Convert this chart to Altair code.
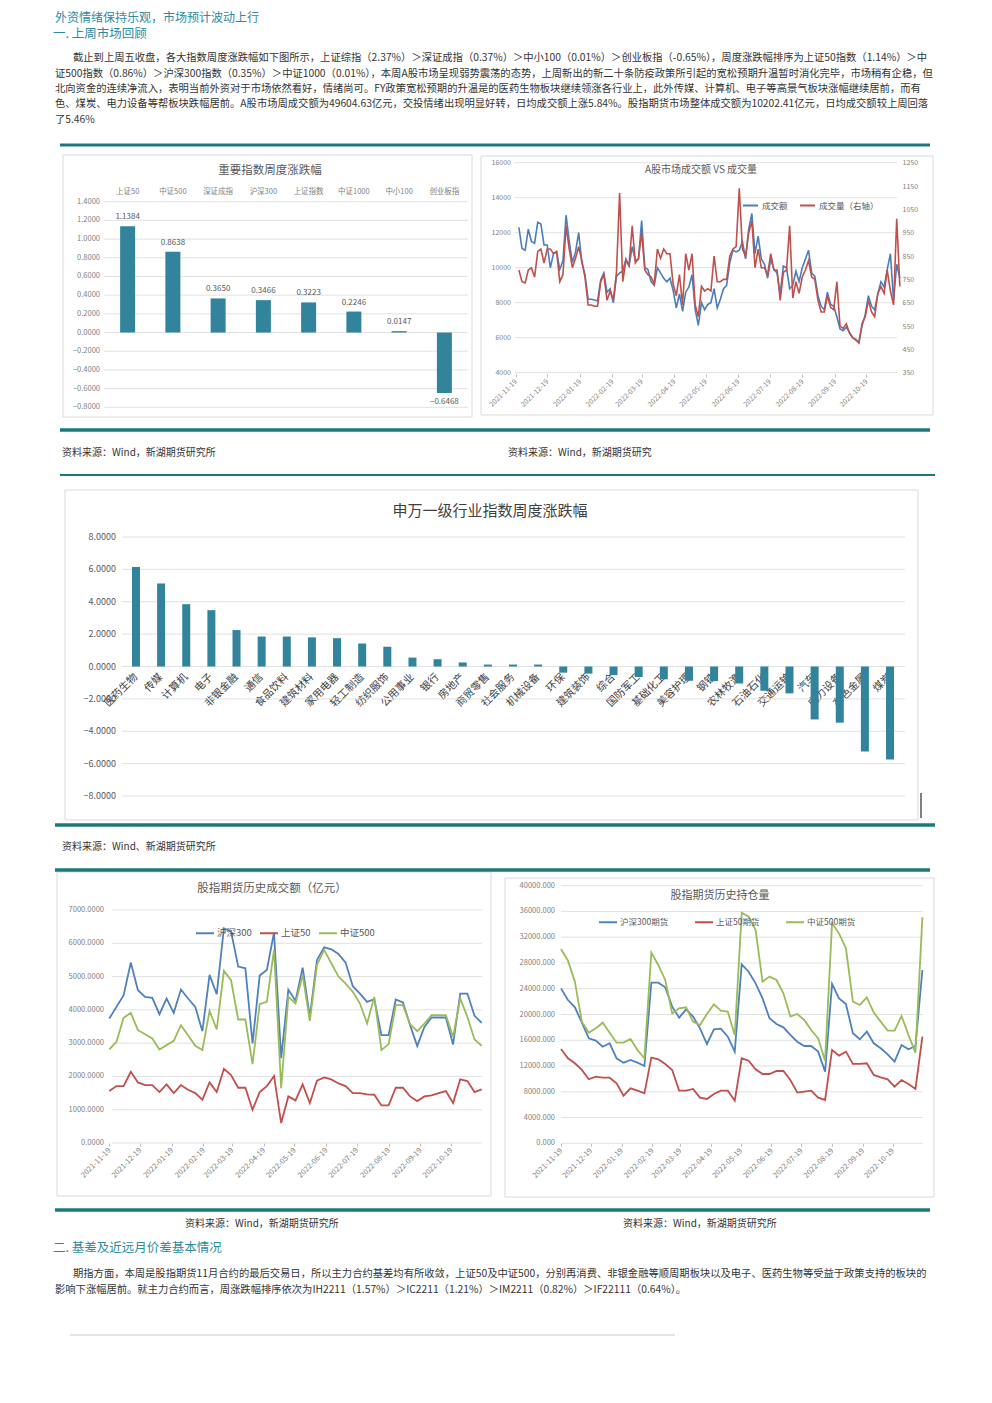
import altair as alt
import pandas as pd

FONT = "Noto Sans CJK SC"
W, H = 976, 1387
M = 8

TEAL_LINE = "#1a7a7b"
HEAD = "#2e8aa0"
BODY = "#333333"
AX = "#7f7f7f"
GRID = "#d9d9d9"
BAR = "#31849b"
BLUE2 = "#4a7ebb"
RED2 = "#c0504d"
BLUE = "#4f81bd"
RED = "#c0504d"
GREEN = "#9bbb59"

# ---------------- data ----------------
c1_names = ["上证50", "中证500", "深证成指", "沪深300", "上证指数", "中证1000", "中小100", "创业板指"]
c1_vals = [1.1384, 0.8638, 0.3650, 0.3466, 0.3223, 0.2246, 0.0147, -0.6468]
c1_ticks = [1.4, 1.2, 1.0, 0.8, 0.6, 0.4, 0.2, 0.0, -0.2, -0.4, -0.6, -0.8]

c2_start = "2021-11-22"
c2_amount = [12300, 11100, 11000, 12200, 11500, 11400, 12600, 12500, 11300, 11300,
             10000, 10800, 10900, 9900, 10400, 13000, 11500, 10300, 10900, 12000,
             10300, 9600, 8200, 8200, 8150, 8100, 9300, 9700, 8600, 8800,
             8000, 9500, 9700, 9800, 10500, 10100, 11200, 10400, 10500, 12700,
             10000, 9900, 9200, 9000, 10000, 9700, 9400, 9200, 9400, 8700,
             7700, 8500, 7500, 8600, 8900, 9600, 7600, 6700, 8000, 7600,
             7900, 8000, 8800, 7700, 8200, 8800, 9000, 10300, 11000, 10900,
             11000, 11500, 10500, 12200, 13100, 10800, 11800, 10500, 10200, 9400,
             10500, 9900, 9700, 8500, 10100, 10000, 8800, 9000, 9800, 9200,
             10000, 10500, 11000, 9700, 9500, 8400, 7800, 7600, 8600, 7900,
             7800, 7200, 6500, 6400, 6600, 6300, 6000, 5900, 5700, 6700,
             7300, 8400, 7800, 7600, 8500, 9200, 8900, 9900, 10800, 8100,
             10200, 9400]
c2_volume = [790, 740, 735, 790, 800, 760, 870, 880, 820, 880,
             880, 860, 870, 740, 770, 980, 880, 800, 840, 890,
             830, 760, 640, 640, 635, 635, 740, 770, 660, 700,
             660, 780, 1120, 740, 830, 810, 980, 820, 840, 950,
             790, 770, 760, 730, 880, 840, 880, 860, 860, 730,
             680, 770, 640, 860, 790, 860, 640, 590, 720, 700,
             710, 700, 850, 740, 740, 750, 750, 850, 880, 890,
             1140, 880, 850, 950, 1000, 800, 880, 800, 800, 770,
             860, 790, 790, 660, 780, 790, 980, 670, 740, 690,
             760, 790, 830, 760, 750, 660, 610, 610, 680, 630,
             620, 740, 550, 540, 560, 520, 500, 490, 480, 560,
             590, 660, 610, 590, 690, 720, 690, 790, 700, 640,
             1010, 720]
c2_left_ticks = [4000, 6000, 8000, 10000, 12000, 14000, 16000]
c2_right_ticks = [350, 450, 550, 650, 750, 850, 950, 1050, 1150, 1250]

c3_names = ["医药生物", "传媒", "计算机", "电子", "非银金融", "通信", "食品饮料", "建筑材料",
            "家用电器", "轻工制造", "纺织服饰", "公用事业", "银行", "房地产", "商贸零售",
            "社会服务", "机械设备", "环保", "建筑装饰", "综合", "国防军工", "基础化工",
            "美容护理", "钢铁", "农林牧渔", "石油石化", "交通运输", "汽车", "电力设备",
            "有色金属", "煤炭"]
c3_vals = [6.15, 5.13, 3.85, 3.48, 2.25, 1.85, 1.85, 1.80, 1.75, 1.42, 1.22, 0.55, 0.45,
           0.25, 0.12, 0.12, 0.12, -0.38, -0.44, -0.53, -0.65, -0.79, -0.88, -0.90,
           -1.05, -1.50, -1.66, -3.27, -3.47, -5.25, -5.74]
c3_ticks = [8, 6, 4, 2, 0, -2, -4, -6, -8]

week_start = "2021-11-19"
c4_hs300 = [3740, 4090, 4440, 5420, 4590, 4390, 4360, 3870, 4340, 3910,
            4610, 4340, 4090, 3360, 5050, 4470, 6450, 6350, 5300, 5250,
            2990, 5030, 5200, 6320, 2550, 4610, 4270, 5270, 3790, 5500,
            5880, 5820, 5680, 5420, 4710, 4490, 4240, 4320, 3240, 3240,
            4310, 4220, 3540, 2910, 3490, 3770, 3770, 3770, 2960, 4490,
            4490, 3820, 3610]
c4_sz50 = [1560, 1710, 1710, 2140, 1820, 1740, 1740, 1530, 1760, 1500,
           1740, 1600, 1500, 1300, 1820, 1530, 2230, 2040, 1660, 1660,
           1000, 1530, 1710, 2010, 600, 1400, 1280, 1760, 1200, 1870,
           1970, 1910, 1790, 1710, 1500, 1500, 1460, 1450, 1130, 1130,
           1660, 1660, 1400, 1260, 1400, 1430, 1500, 1560, 1200, 1910,
           1860, 1530, 1610]
c4_zz500 = [2810, 3040, 3760, 3910, 3390, 3270, 3140, 2810, 2940, 3070,
            3540, 3240, 2920, 2790, 3970, 3410, 5170, 4890, 3710, 3710,
            2370, 4170, 4240, 5800, 1650, 4390, 4190, 5050, 3670, 5350,
            5800, 5400, 5000, 4790, 4540, 4190, 3590, 4390, 2790, 2970,
            4140, 4140, 3570, 3360, 3590, 3840, 3840, 3840, 3190, 4340,
            3790, 3110, 2920]
c4_ticks = [0, 1000, 2000, 3000, 4000, 5000, 6000, 7000]
c4_series = ["沪深300", "上证50", "中证500"]

c5_hs300 = [24060, 22250, 21110, 18730, 16300, 15940, 15000, 15530, 13200, 12520,
            12940, 12520, 12010, 24940, 24940, 24220, 21220, 19510, 20800, 19670,
            17850, 15420, 17700, 17800, 16560, 14230, 27790, 26650, 24840, 22510,
            19410, 18530, 18010, 16820, 15780, 15110, 15110, 14230, 11130, 24740,
            22510, 21630, 17080, 16150, 17340, 15530, 14750, 13820, 12680, 15270,
            14590, 15110, 26910]
c5_sz50 = [14650, 13200, 12420, 11390, 9940, 10350, 10190, 10190, 9320, 7400,
           8540, 8180, 7760, 13300, 13040, 12320, 11390, 8180, 8180, 8440,
           7090, 6880, 7660, 8180, 8180, 6620, 13200, 12830, 11490, 10760,
           10760, 11230, 11230, 9830, 7870, 8020, 8180, 7090, 6730, 14490,
           13610, 14230, 12320, 12320, 12420, 10610, 10250, 9940, 8800, 9830,
           9210, 8440, 16560]
c5_zz500 = [30170, 28360, 25100, 18890, 17180, 17850, 18730, 17180, 15630, 15630,
            16200, 14490, 13200, 29600, 27690, 25360, 20180, 20960, 21110, 18890,
            18370, 20080, 21580, 20600, 20440, 16820, 35810, 35190, 33120, 25100,
            25880, 25360, 23290, 19670, 20080, 19150, 17600, 16300, 12830, 34160,
            32600, 30270, 21990, 21480, 22670, 20290, 18890, 17490, 17490, 19770,
            16820, 14080, 35090]
c5_ticks = [0, 4000, 8000, 12000, 16000, 20000, 24000, 28000, 32000, 36000, 40000]
c5_series = ["沪深300期货", "上证50期货", "中证500期货"]

month_ticks = ["2021-11-19", "2021-12-19", "2022-01-19", "2022-02-19", "2022-03-19", "2022-04-19",
               "2022-05-19", "2022-06-19", "2022-07-19", "2022-08-19", "2022-09-19", "2022-10-19"]

para1 = [
    "截止到上周五收盘，各大指数周度涨跌幅如下图所示，上证综指（2.37%）＞深证成指（0.37%）＞中小100（0.01%）＞创业板指（-0.65%），周度涨跌幅排序为上证50指数（1.14%）＞中",
    "证500指数（0.86%）＞沪深300指数（0.35%）＞中证1000（0.01%），本周A股市场呈现弱势震荡的态势，上周新出的新二十条防疫政策所引起的宽松预期升温暂时消化完毕，市场稍有企稳，但",
    "北向资金的连续净流入，表明当前外资对于市场依然看好，情绪尚可。FY政策宽松预期的升温是的医药生物板块继续领涨各行业上，此外传媒、计算机、电子等高景气板块涨幅继续居前，而有",
    "色、煤炭、电力设备等帮板块跌幅居前。A股市场周成交额为49604.63亿元，交投情绪出现明显好转，日均成交额上涨5.84%。股指期货市场整体成交额为10202.41亿元，日均成交额较上周回落",
    "了5.46%",
]
para2 = [
    "期指方面，本周是股指期货11月合约的最后交易日，所以主力合约基差均有所收敛，上证50及中证500，分别再消费、非银金融等顺周期板块以及电子、医药生物等受益于政策支持的板块的",
    "影响下涨幅居前。就主力合约而言，周涨跌幅排序依次为IH2211（1.57%）＞IC2211（1.21%）＞IM2211（0.82%）＞IF22111（0.64%）。",
]


# ---------------- helpers ----------------
def px(x):
    return x - M


def py(y):
    return y - M


def dt(s):
    y, m, d = [int(p) for p in s.split("-")]
    return alt.DateTime(year=y, month=m, date=d)


one = pd.DataFrame({"k": [0]})


def label(s, x, y, size, color=BODY, align="left"):
    return alt.Chart(one).mark_text(
        text=s, font=FONT, fontSize=size, color=color, align=align, baseline="middle"
    ).encode(x=alt.value(px(x)), y=alt.value(py(y)))


def hrule(x1, x2, y, color=TEAL_LINE, w=3.5):
    return alt.Chart(one).mark_rule(color=color, strokeWidth=w).encode(
        x=alt.value(px(x1)), x2=alt.value(px(x2)), y=alt.value(py(y)))


def vrule(x, y1, y2, color="#000000", w=1):
    return alt.Chart(one).mark_rule(color=color, strokeWidth=w).encode(
        x=alt.value(px(x)), y=alt.value(py(y1)), y2=alt.value(py(y2)))


def frame(x1, y1, x2, y2, color="#d9d9d9"):
    return alt.Chart(one).mark_rect(fillOpacity=0, stroke=color, strokeWidth=1).encode(
        x=alt.value(px(x1)), x2=alt.value(px(x2)), y=alt.value(py(y1)), y2=alt.value(py(y2)))


def yaxis_right(xpos, values, fmt, size, color=AX):
    return alt.Axis(orient="right", offset=px(xpos) - W, values=values, format=fmt, domain=False,
                    ticks=False, tickSize=0, grid=False, title=None, labelPadding=0,
                    labelAlign="left", labelFont=FONT, labelFontSize=size, labelColor=color,
                    labelOverlap=False, labelFlush=False)


def daxis(ypos, size):
    return alt.Axis(orient="bottom", offset=py(ypos) - H, values=[dt(s) for s in month_ticks],
                    format="%Y-%m-%d", labelAngle=-45, labelAlign="right", labelBaseline="middle",
                    domain=False, ticks=True, tickSize=3, tickColor="#bfbfbf", labelPadding=3,
                    grid=False, title=None, labelFont=FONT, labelFontSize=size, labelColor=AX,
                    labelOverlap=False, labelFlush=False)


def grid(ticks, scale, x1, x2):
    return alt.Chart(pd.DataFrame({"t": ticks})).mark_rule(color=GRID, strokeWidth=0.8).encode(
        y=alt.Y("t:Q", scale=scale, axis=None), x=alt.value(px(x1)), x2=alt.value(px(x2)))


def ylabels(ticks, scale, xright, fmt, size, color=AX):
    # tick labels of a value axis, placed through the chart's own y scale
    return alt.Chart(pd.DataFrame({"t": ticks})).mark_text(
        align="right", baseline="middle", font=FONT, fontSize=size, color=color).encode(
        y=alt.Y("t:Q", scale=scale, axis=None), x=alt.value(px(xright)),
        text=alt.Text("t:Q", format=fmt))


# ---------------- chart 1 ----------------
df1 = pd.DataFrame({"cat": c1_names, "val": c1_vals})
y1 = alt.Scale(domain=[-0.8, 1.4], range=[py(407.3), py(201.7)], nice=False)
x1 = alt.Scale(domain=c1_names, range=[px(105), px(467)], paddingInner=0, paddingOuter=0)
g1 = grid(c1_ticks, y1, 104, 468)
t1 = ylabels(c1_ticks, y1, 100, ".4f", 7.5)
b1 = alt.Chart(df1).mark_bar(size=15, color=BAR).encode(
    x=alt.X("cat:N", scale=x1, axis=None),
    y=alt.Y("val:Q", scale=y1, axis=None, stack=None))
cat1 = alt.Chart(df1).mark_text(baseline="middle", font=FONT, fontSize=7.5, color=AX).encode(
    x=alt.X("cat:N", scale=x1, axis=None), y=alt.value(py(191.5)), text="cat:N")
l1p = alt.Chart(df1).transform_filter("datum.val >= 0").mark_text(
    baseline="bottom", dy=-5, font=FONT, fontSize=8, color="#595959").encode(
    x=alt.X("cat:N", scale=x1, axis=None), y=alt.Y("val:Q", scale=y1, axis=None),
    text=alt.Text("val:Q", format=".4f"))
l1n = alt.Chart(df1).transform_filter("datum.val < 0").mark_text(
    baseline="top", dy=5, font=FONT, fontSize=8, color="#595959").encode(
    x=alt.X("cat:N", scale=x1, axis=None), y=alt.Y("val:Q", scale=y1, axis=None),
    text=alt.Text("val:Q", format=".4f"))
chart1 = alt.layer(g1, t1, b1, cat1, l1p, l1n)

# ---------------- chart 2 ----------------
c2_dates = pd.date_range(c2_start, periods=len(c2_amount), freq="3D")
df2b = pd.DataFrame({"date": c2_dates, "v": c2_amount, "s": "成交额"})
df2r = pd.DataFrame({"date": c2_dates, "v": c2_volume, "s": "成交量（右轴）"})
x2 = alt.Scale(type="time", domain=[dt("2021-11-19"), dt("2022-11-19")], range=[px(515.7), px(898.8)], nice=False)
y2l = alt.Scale(domain=[4000, 16000], range=[py(372.7), py(162.7)], nice=False)
y2r = alt.Scale(domain=[350, 1250], range=[py(372.7), py(162.7)], nice=False)
col2 = alt.Scale(domain=["成交额", "成交量（右轴）"], range=[BLUE2, RED2])
leg2 = alt.Legend(orient="none", legendX=px(742), legendY=py(197), direction="horizontal", title=None,
                  symbolType="stroke", symbolStrokeWidth=2, symbolSize=225, labelFont=FONT,
                  labelFontSize=8.5, labelColor="#595959", columnPadding=8, labelOffset=3)
g2 = grid(c2_left_ticks, y2l, 514.7, 897)
t2 = ylabels(c2_left_ticks, y2l, 511, "d", 7)
dax2 = daxis(374, 7)
line2b = alt.Chart(df2b).mark_line(strokeWidth=1.6).encode(
    x=alt.X("date:T", scale=x2, axis=dax2),
    y=alt.Y("v:Q", scale=y2l, axis=None),
    color=alt.Color("s:N", scale=col2, legend=leg2))
line2r = alt.Chart(df2r).mark_line(strokeWidth=1.6).encode(
    x=alt.X("date:T", scale=x2, axis=dax2),
    y=alt.Y("v:Q", scale=y2r, axis=yaxis_right(902, c2_right_ticks, "d", 7)),
    color=alt.Color("s:N", scale=col2, legend=leg2))
chart2 = alt.layer(alt.layer(g2, t2, line2b), line2r).resolve_scale(y="independent")

# ---------------- chart 3 ----------------
df3 = pd.DataFrame({"cat": c3_names, "val": c3_vals})
x3 = alt.Scale(domain=c3_names, range=[px(123.4), px(902.6)], paddingInner=0, paddingOuter=0)
y3 = alt.Scale(domain=[-8, 8], range=[py(796), py(537)], nice=False)
g3 = grid(c3_ticks, y3, 122, 905)
t3 = ylabels(c3_ticks, y3, 116, ".4f", 9, "#595959")
b3 = alt.Chart(df3).mark_bar(size=8, color=BAR).encode(
    x=alt.X("cat:N", scale=x3, axis=alt.Axis(orient="bottom", offset=py(666) - H, labelAngle=-45,
                                              labelAlign="right", labelBaseline="middle", domain=False,
                                              ticks=False, tickSize=0, labelPadding=9, title=None,
                                              labelFont=FONT, labelFontSize=10.5, labelColor="#404040",
                                              labelOverlap=False)),
    y=alt.Y("val:Q", scale=y3, axis=None, stack=None))
chart3 = alt.layer(g3, t3, b3)

# ---------------- chart 4 ----------------
wdates = pd.date_range(week_start, periods=len(c4_hs300), freq="7D")
n = len(wdates)
df4 = pd.DataFrame({"date": list(wdates) * 3, "v": c4_hs300 + c4_sz50 + c4_zz500,
                    "s": [c4_series[0]] * n + [c4_series[1]] * n + [c4_series[2]] * n})
x4 = alt.Scale(type="time", domain=[dt("2021-11-19"), dt("2022-11-18")], range=[px(109.3), px(481.7)], nice=False)
y4 = alt.Scale(domain=[0, 7000], range=[py(1143), py(910)], nice=False)
g4 = grid(c4_ticks, y4, 112, 482)
t4 = ylabels(c4_ticks, y4, 104, ".4f", 7.5)
line4 = alt.Chart(df4).mark_line(strokeWidth=1.8).encode(
    x=alt.X("date:T", scale=x4, axis=daxis(1143, 7.5)),
    y=alt.Y("v:Q", scale=y4, axis=None),
    color=alt.Color("s:N", scale=alt.Scale(domain=c4_series, range=[BLUE, RED, GREEN]),
                    legend=alt.Legend(orient="none", legendX=px(195), legendY=py(923),
                                      direction="horizontal", title=None, symbolType="stroke",
                                      symbolStrokeWidth=2, symbolSize=324, labelFont=FONT,
                                      labelFontSize=9.5, labelColor="#595959", columnPadding=4,
                                      labelOffset=2)))
chart4 = alt.layer(g4, t4, line4)

# ---------------- chart 5 ----------------
df5 = pd.DataFrame({"date": list(wdates) * 3, "v": c5_hs300 + c5_sz50 + c5_zz500,
                    "s": [c5_series[0]] * n + [c5_series[1]] * n + [c5_series[2]] * n})
x5 = alt.Scale(type="time", domain=[dt("2021-11-19"), dt("2022-11-18")], range=[px(561), px(922.4)], nice=False)
y5 = alt.Scale(domain=[0, 40000], range=[py(1143.3), py(885.7)], nice=False)
g5 = grid(c5_ticks, y5, 561, 923)
t5 = ylabels(c5_ticks, y5, 555, ".3f", 7.5)
line5 = alt.Chart(df5).mark_line(strokeWidth=1.8).encode(
    x=alt.X("date:T", scale=x5, axis=daxis(1143.3, 7.5)),
    y=alt.Y("v:Q", scale=y5, axis=None),
    color=alt.Color("s:N", scale=alt.Scale(domain=c5_series, range=[BLUE, RED, GREEN]),
                    legend=alt.Legend(orient="none", legendX=px(598), legendY=py(912),
                                      direction="horizontal", title=None, symbolType="stroke",
                                      symbolStrokeWidth=2, symbolSize=324, labelFont=FONT,
                                      labelFontSize=8.5, labelColor="#595959", columnPadding=22,
                                      labelOffset=2)))
chart5 = alt.layer(g5, t5, line5)

# ---------------- page decorations & text ----------------
deco = [
    frame(63, 155, 472, 417), frame(481, 156, 933, 415), frame(65, 490, 918, 820),
    frame(57, 872, 491, 1196), frame(505, 878, 934, 1197),
    hrule(60, 930, 145, w=3), hrule(60, 930, 430, w=3.5), hrule(60, 935, 475, w=2),
    hrule(55, 935, 825, w=3.5), hrule(55, 930, 870, w=3.5), hrule(55, 930, 1210, w=3.5),
    hrule(70, 675, 1335, color="#e3e3e3", w=2), vrule(921, 793, 818),
]

texts = [
    label("外资情绪保持乐观，市场预计波动上行", 55, 17.5, 12, HEAD),
    label("一. 上周市场回顾", 53, 34, 12.5, HEAD),
    label("二. 基差及近远月价差基本情况", 53, 1248, 12.5, HEAD),
    label("重要指数周度涨跌幅", 270, 171, 11.5, "#595959", "center"),
    label("A股市场成交额 VS 成交量", 701, 170, 10, "#595959", "center"),
    label("申万一级行业指数周度涨跌幅", 490, 511, 15, "#404040", "center"),
    label("股指期货历史成交额（亿元）", 272, 889, 11.5, "#595959", "center"),
    label("股指期货历史持仓量", 720, 896, 11, "#595959", "center"),
    label("资料来源：Wind，新湖期货研究所", 62, 453, 10),
    label("资料来源：Wind，新湖期货研究", 508, 453, 10),
    label("资料来源：Wind、新湖期货研究所", 62, 847, 10),
    label("资料来源：Wind，新湖期货研究所", 185, 1224, 10),
    label("资料来源：Wind，新湖期货研究所", 623, 1224, 10),
]
p1_y = [58, 74, 89, 104, 120]
for i, (s, yy) in enumerate(zip(para1, p1_y)):
    texts.append(label(s, 73 if i == 0 else 55, yy, 10.3))
p2_y = [1274, 1290]
for i, (s, yy) in enumerate(zip(para2, p2_y)):
    texts.append(label(s, 73 if i == 0 else 55, yy, 10.3))

chart = alt.layer(*deco, chart1, chart2, chart3, chart4, chart5, *texts).resolve_scale(
    x="independent", y="independent", color="independent"
).properties(
    width=W, height=H, padding=0, background="white",
    autosize=alt.AutoSizeParams(type="none"),
).configure_view(stroke=None)

chart.save("out.html", embed_options={"renderer": "svg", "actions": False})
